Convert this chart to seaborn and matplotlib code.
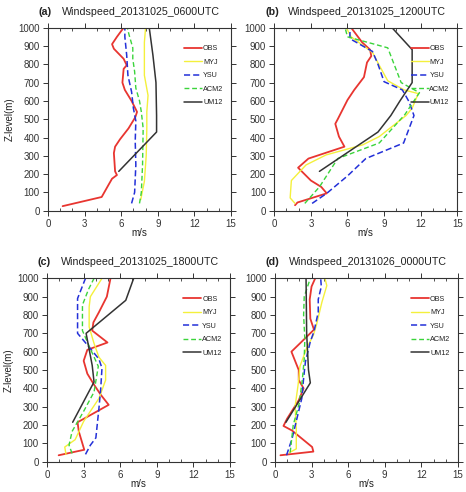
import matplotlib
matplotlib.use('Agg')
import matplotlib.pyplot as plt
from matplotlib.ticker import MultipleLocator
import seaborn as sns

# ---- values (height in m, wind speed in m/s) ----
# (a) 20131025 0600UTC
obs_a_z = [25, 75, 140, 175, 195, 215, 315, 350, 390, 450, 510, 540, 600, 660, 700, 775, 795, 830, 885, 910, 950, 1000]
obs_a_ws = [1.2, 4.4, 4.95, 5.25, 5.65, 5.5, 5.4, 5.5, 5.9, 6.6, 7.15, 7.3, 6.85, 6.3, 6.1, 6.2, 6.45, 6.2, 5.4, 5.25, 5.65, 6.2]
myj_a_z = [60, 160, 300, 450, 540, 630, 740, 920, 1000]
myj_a_ws = [7.6, 7.9, 8.05, 8.1, 8.1, 8.2, 7.9, 7.9, 8.0]
ysu_a_z = [40, 100, 250, 380, 490, 560, 650, 740, 850, 950, 1000]
ysu_a_ws = [6.85, 7.1, 7.2, 7.15, 7.2, 7.0, 6.85, 6.55, 6.45, 6.3, 6.3]
acm_a_z = [40, 100, 250, 450, 540, 600, 670, 760, 830, 890, 960, 1000]
acm_a_ws = [7.5, 7.65, 7.75, 7.8, 7.65, 7.5, 7.2, 7.1, 6.95, 6.95, 6.65, 6.5]
um_a_z = [215, 430, 520, 700, 850, 1000]
um_a_ws = [5.8, 8.9, 8.9, 8.85, 8.6, 8.3]

# (b) 20131025 1200UTC
obs_b_z = [30, 45, 95, 130, 165, 235, 285, 350, 405, 475, 500, 605, 660, 730, 810, 845, 880, 920, 1000]
obs_b_ws = [1.7, 1.9, 4.3, 3.85, 3.0, 1.95, 2.8, 5.75, 5.3, 5.0, 5.2, 6.0, 6.55, 7.35, 7.6, 7.95, 7.85, 7.2, 6.3]
myj_b_z = [40, 70, 165, 250, 305, 360, 405, 520, 560, 640, 660, 710, 795, 865, 950, 1000]
myj_b_ws = [1.7, 1.3, 1.4, 2.6, 4.25, 7.25, 8.6, 10.8, 11.3, 11.8, 10.65, 9.3, 8.6, 8.05, 6.3, 5.9]
ysu_b_z = [40, 95, 190, 285, 370, 520, 595, 660, 705, 800, 870, 940, 1000]
ysu_b_ws = [3.1, 4.3, 6.0, 7.5, 10.6, 11.45, 11.05, 10.5, 9.0, 8.5, 8.05, 6.2, 6.2]
acm_b_z = [40, 130, 285, 370, 525, 645, 700, 890, 950, 1000]
acm_b_ws = [2.5, 3.7, 5.2, 8.6, 10.7, 11.9, 10.4, 9.3, 6.0, 5.8]
um_b_z = [215, 430, 520, 600, 700, 880, 1000]
um_b_ws = [3.7, 8.5, 9.55, 10.3, 11.3, 11.3, 9.65]

# (c) 20131025 1800UTC
obs_c_z = [35, 65, 165, 215, 310, 365, 420, 480, 550, 610, 650, 715, 760, 815, 900, 1000]
obs_c_ws = [0.95, 3.05, 2.6, 2.5, 5.05, 4.4, 3.85, 3.3, 3.0, 3.3, 4.95, 3.7, 3.8, 4.25, 4.9, 5.2]
myj_c_z = [40, 80, 120, 220, 345, 445, 525, 570, 645, 735, 845, 900, 1000]
myj_c_ws = [1.55, 1.45, 2.3, 3.0, 4.25, 4.8, 4.8, 4.25, 3.85, 3.45, 3.45, 3.55, 4.5]
ysu_c_z = [40, 90, 130, 290, 400, 510, 560, 625, 700, 890, 1000]
ysu_c_ws = [3.15, 3.55, 4.0, 4.25, 4.4, 4.5, 4.25, 3.45, 2.5, 2.5, 3.15]
acm_c_z = [45, 90, 165, 275, 380, 520, 615, 715, 855, 940, 1000]
acm_c_ws = [2.05, 1.8, 2.05, 3.0, 3.85, 4.2, 3.55, 2.9, 2.9, 3.4, 3.85]
um_c_z = [215, 435, 525, 700, 880, 1000]
um_c_ws = [2.1, 3.85, 3.7, 3.2, 6.45, 7.1]

# (d) 20131026 0000UTC
obs_d_z = [35, 55, 80, 170, 195, 235, 335, 400, 445, 500, 600, 655, 720, 780, 885, 955, 1000]
obs_d_ws = [0.45, 3.15, 3.05, 1.4, 0.7, 1.0, 1.95, 2.35, 1.95, 1.95, 1.35, 2.2, 3.2, 2.9, 2.85, 3.0, 3.3]
myj_d_z = [50, 70, 180, 300, 420, 520, 620, 690, 745, 870, 960, 1000]
myj_d_ws = [1.2, 1.75, 1.75, 1.65, 1.9, 2.05, 2.6, 3.15, 3.4, 3.85, 4.25, 4.1]
ysu_d_z = [35, 125, 235, 345, 455, 545, 655, 710, 815, 885, 955, 1000]
ysu_d_ws = [0.95, 1.4, 1.8, 2.2, 2.35, 2.5, 2.9, 3.2, 3.55, 3.55, 3.8, 3.75]
acm_d_z = [50, 200, 320, 450, 560, 670, 800, 900, 1000]
acm_d_ws = [1.25, 1.5, 2.0, 2.25, 2.4, 2.45, 2.35, 2.4, 2.9]
um_d_z = [215, 430, 500, 700, 1000]
um_d_ws = [0.9, 2.9, 2.75, 2.6, 2.55]

series_names = ['OBS', 'MYJ', 'YSU', 'ACM2', 'UM12']
panel_tags = ['(a)', '(b)', '(c)', '(d)']
panel_titles = ['Windspeed_20131025_0600UTC', 'Windspeed_20131025_1200UTC',
                'Windspeed_20131025_1800UTC', 'Windspeed_20131026_0000UTC']

panels = [
    [(obs_a_z, obs_a_ws), (myj_a_z, myj_a_ws), (ysu_a_z, ysu_a_ws), (acm_a_z, acm_a_ws), (um_a_z, um_a_ws)],
    [(obs_b_z, obs_b_ws), (myj_b_z, myj_b_ws), (ysu_b_z, ysu_b_ws), (acm_b_z, acm_b_ws), (um_b_z, um_b_ws)],
    [(obs_c_z, obs_c_ws), (myj_c_z, myj_c_ws), (ysu_c_z, ysu_c_ws), (acm_c_z, acm_c_ws), (um_c_z, um_c_ws)],
    [(obs_d_z, obs_d_ws), (myj_d_z, myj_d_ws), (ysu_d_z, ysu_d_ws), (acm_d_z, acm_d_ws), (um_d_z, um_d_ws)],
]

# line styles per series
colors = ['#e83530', '#f4f03c', '#2330d8', '#3bd43b', '#333333']
widths = [1.3, 1.0, 1.1, 1.0, 1.1]
styles = ['-', '-', (0, (4, 2)), (0, (3.5, 2)), '-']

sns.set_theme(style='ticks')
plt.rcParams['font.family'] = ['Liberation Sans', 'DejaVu Sans']
plt.rcParams['text.color'] = '#222222'
plt.rcParams['axes.labelcolor'] = '#222222'

fig = plt.figure(figsize=(4.66, 4.92), dpi=100)
rects = [[0.103, 0.5717, 0.3927, 0.372],
         [0.5886, 0.5717, 0.3927, 0.372],
         [0.101, 0.0616, 0.3927, 0.3727],
         [0.590, 0.0616, 0.3927, 0.3727]]

for i, rect in enumerate(rects):
    ax = fig.add_axes(rect)
    for name, (z, ws), c, lw, ls in zip(series_names, panels[i], colors, widths, styles):
        sns.lineplot(x=ws, y=z, sort=False, estimator=None, color=c,
                     linewidth=lw, linestyle=ls, label=name, ax=ax)

    ax.set_xlim(0, 15)
    ax.set_ylim(0, 1000)
    ax.xaxis.set_major_locator(MultipleLocator(3))
    ax.xaxis.set_minor_locator(MultipleLocator(1))
    ax.yaxis.set_major_locator(MultipleLocator(100))
    ax.tick_params(which='major', direction='out', length=3.5, width=0.7,
                   labelsize=7, pad=2.5, top=True, right=True, colors='#333333',
                   labelcolor='#333333')
    ax.tick_params(which='minor', direction='in', length=2.5, width=0.6,
                   top=True, right=True, colors='#333333')
    for sp in ax.spines.values():
        sp.set_linewidth(0.8)
        sp.set_color('#333333')

    ax.set_xlabel('m/s', fontsize=7)
    ax.xaxis.set_label_coords(0.5, -0.097)
    if i % 2 == 0:
        ax.set_ylabel('Z-level(m)', fontsize=7)
        ax.yaxis.set_label_coords(-0.18, 0.5)
    else:
        ax.set_ylabel('')

    ax.text(-0.05, 1.087, panel_tags[i], transform=ax.transAxes, fontsize=7.7,
            fontweight='bold', va='center', ha='left')
    ax.text(0.077, 1.087, panel_titles[i], transform=ax.transAxes, fontsize=7.7,
            va='center', ha='left')

    ax.legend(loc='upper left', bbox_to_anchor=(0.745, 0.905), frameon=False,
              fontsize=5.2, handlelength=2.5, handletextpad=0.1, labelspacing=0.9,
              borderpad=0, borderaxespad=0)

fig.savefig('out.png', dpi=100)
